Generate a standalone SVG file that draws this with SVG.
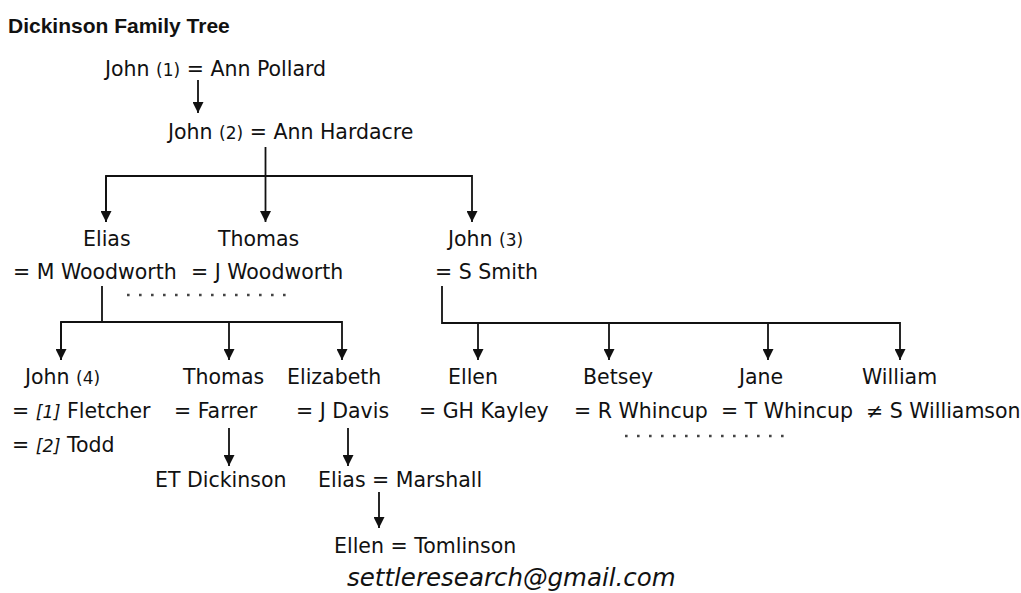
<svg xmlns="http://www.w3.org/2000/svg" width="1021" height="593" viewBox="0 0 1021 593">
<defs>
<style>
.t{font-family:"DejaVu Sans",sans-serif;font-size:20.5px;fill:#111}
.s{font-size:17px}
.i{font-style:italic;font-size:17.5px}
.title{font-family:"Liberation Sans",sans-serif;font-weight:bold;font-size:21px;fill:#111}
.mail{font-family:"DejaVu Sans",sans-serif;font-style:italic;font-size:24.5px;fill:#111}
.ln{fill:none;stroke:#111;stroke-width:1.8}
.dots{fill:none;stroke:#444;stroke-width:2.6;stroke-dasharray:2.6 9.4}
</style>
<marker id="ah" viewBox="0 0 10 10" refX="10" refY="5" markerWidth="11" markerHeight="11" markerUnits="userSpaceOnUse" orient="auto">
<path d="M0,0 L10,5 L0,10 Z" fill="#111"/>
</marker>
</defs>
<rect width="1021" height="593" fill="#fff"/>
<text class="title" x="8" y="33">Dickinson Family Tree</text>

<g id="connectors">
<path class="ln" d="M198,80 V113" marker-end="url(#ah)"/>
<path class="ln" d="M265.5,147 V222" marker-end="url(#ah)"/>
<path class="ln" d="M106,222 V176 H472 V222" marker-end="url(#ah)"/>
<path class="ln" d="M106,176 V222" marker-end="url(#ah)"/>
<path class="ln" d="M102,286 V322"/>
<path class="ln" d="M61,360 V322 H342 V360" marker-end="url(#ah)"/>
<path class="ln" d="M61,322 V360" marker-end="url(#ah)"/>
<path class="ln" d="M229,322 V360" marker-end="url(#ah)"/>
<path class="ln" d="M442,286 V323 H900 V360" marker-end="url(#ah)"/>
<path class="ln" d="M478,323 V360" marker-end="url(#ah)"/>
<path class="ln" d="M609,323 V360" marker-end="url(#ah)"/>
<path class="ln" d="M768,323 V360" marker-end="url(#ah)"/>
<path class="ln" d="M229,428 V466" marker-end="url(#ah)"/>
<path class="ln" d="M348,428 V466" marker-end="url(#ah)"/>
<path class="ln" d="M379,492 V528" marker-end="url(#ah)"/>
<line class="dots" x1="127" y1="295" x2="292" y2="295"/>
<line class="dots" x1="625" y1="436" x2="790" y2="436"/>
</g>

<g id="john1"><text class="t" x="105" y="76">John <tspan class="s">(1)</tspan> = Ann Pollard</text></g>
<g id="john2"><text class="t" x="168" y="139">John <tspan class="s">(2)</tspan> = Ann Hardacre</text></g>

<g id="elias"><text class="t" x="83" y="246">Elias</text><text class="t" x="13" y="279">= M Woodworth</text></g>
<g id="thomas"><text class="t" x="218" y="246">Thomas</text><text class="t" x="191" y="279">= J Woodworth</text></g>
<g id="john3"><text class="t" x="448" y="246">John <tspan class="s">(3)</tspan></text><text class="t" x="435" y="279">= S Smith</text></g>

<g id="john4"><text class="t" x="25" y="384">John <tspan class="s">(4)</tspan></text><text class="t" x="12" y="418">= <tspan class="i">[1]</tspan> Fletcher</text><text class="t" x="12" y="452">= <tspan class="i">[2]</tspan> Todd</text></g>
<g id="thomas2"><text class="t" x="183" y="384">Thomas</text><text class="t" x="174" y="418">= Farrer</text></g>
<g id="elizabeth"><text class="t" x="287" y="384">Elizabeth</text><text class="t" x="296" y="418">= J Davis</text></g>
<g id="ellen"><text class="t" x="448" y="384">Ellen</text><text class="t" x="419" y="418">= GH Kayley</text></g>
<g id="betsey"><text class="t" x="583" y="384">Betsey</text><text class="t" x="574" y="418">= R Whincup</text></g>
<g id="jane"><text class="t" x="739" y="384">Jane</text><text class="t" x="721" y="418">= T Whincup</text></g>
<g id="william"><text class="t" x="862" y="384">William</text><text class="t" x="866" y="418">≠ S Williamson</text></g>

<g id="etdickinson"><text class="t" x="155" y="487">ET Dickinson</text></g>
<g id="eliasmarshall"><text class="t" x="318" y="487">Elias = Marshall</text></g>
<g id="ellentomlinson"><text class="t" x="334" y="553">Ellen = Tomlinson</text></g>

<text class="mail" x="347" y="586">settleresearch@gmail.com</text>
</svg>
